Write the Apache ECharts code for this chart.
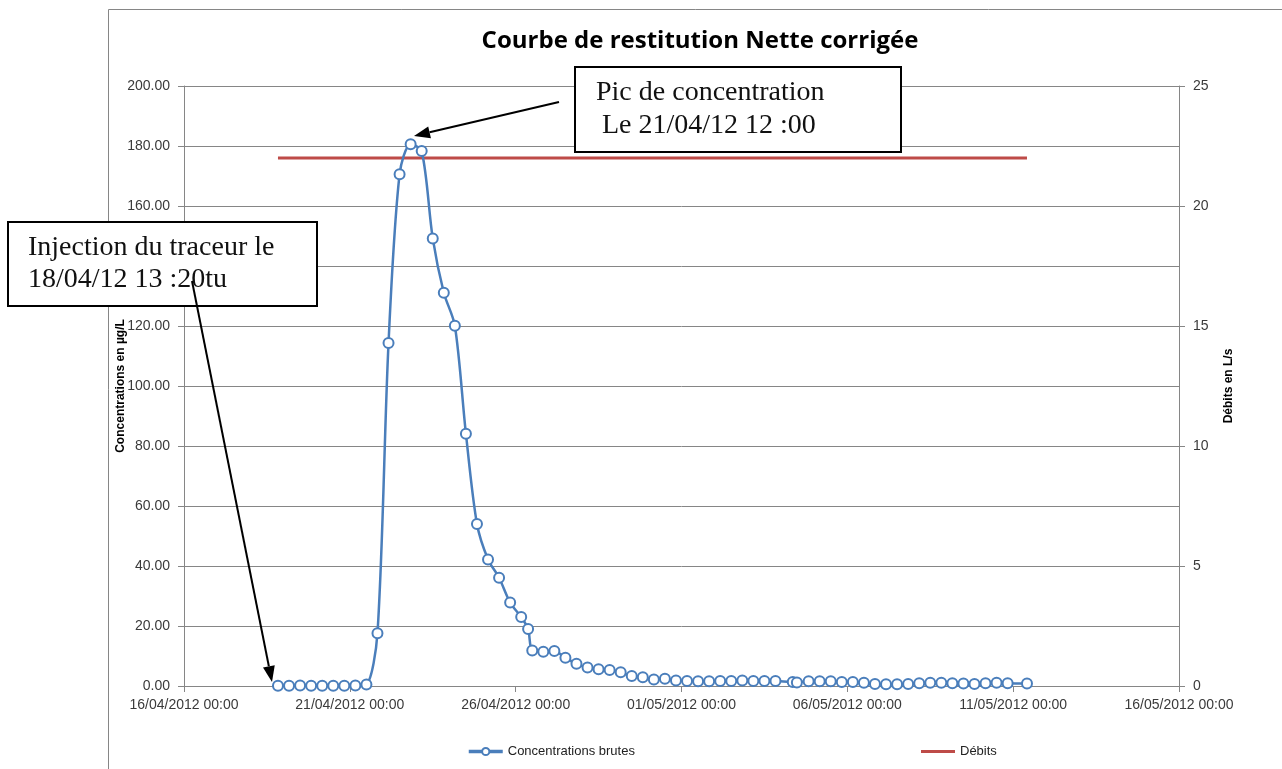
<!DOCTYPE html>
<html>
<head>
<meta charset="utf-8">
<title>Courbe de restitution</title>
<script src="https://cdn.jsdelivr.net/npm/echarts@6/dist/echarts.min.js"></script>
<style>
  html, body { margin: 0; padding: 0; background: #fff; }
  #chart { width: 1282px; height: 769px; }
</style>
</head>
<body>
<div id="chart"></div>
<script>
// sample times
const sampleTimes = [
  '2012-04-18 20:00', '2012-04-19 04:00', '2012-04-19 12:00', '2012-04-19 20:00', '2012-04-20 04:00',
  '2012-04-20 12:00', '2012-04-20 20:00', '2012-04-21 04:00', '2012-04-21 12:00', '2012-04-21 20:00',
  '2012-04-22 04:00', '2012-04-22 12:00', '2012-04-22 20:00', '2012-04-23 04:00', '2012-04-23 12:00',
  '2012-04-23 20:00', '2012-04-24 04:00', '2012-04-24 12:00', '2012-04-24 20:00', '2012-04-25 04:00',
  '2012-04-25 12:00', '2012-04-25 20:00', '2012-04-26 04:00', '2012-04-26 09:00', '2012-04-26 12:00',
  '2012-04-26 20:00', '2012-04-27 04:00', '2012-04-27 12:00', '2012-04-27 20:00', '2012-04-28 04:00',
  '2012-04-28 12:00', '2012-04-28 20:00', '2012-04-29 04:00', '2012-04-29 12:00', '2012-04-29 20:00',
  '2012-04-30 04:00', '2012-04-30 12:00', '2012-04-30 20:00', '2012-05-01 04:00', '2012-05-01 12:00',
  '2012-05-01 20:00', '2012-05-02 04:00', '2012-05-02 12:00', '2012-05-02 20:00', '2012-05-03 04:00',
  '2012-05-03 12:00', '2012-05-03 20:00', '2012-05-04 08:30', '2012-05-04 11:30', '2012-05-04 20:00',
  '2012-05-05 04:00', '2012-05-05 12:00', '2012-05-05 20:00', '2012-05-06 04:00', '2012-05-06 12:00',
  '2012-05-06 20:00', '2012-05-07 04:00', '2012-05-07 12:00', '2012-05-07 20:00', '2012-05-08 04:00',
  '2012-05-08 12:00', '2012-05-08 20:00', '2012-05-09 04:00', '2012-05-09 12:00', '2012-05-09 20:00',
  '2012-05-10 04:00', '2012-05-10 12:00', '2012-05-10 20:00', '2012-05-11 10:00'
];

// concentrations brutes (µg/L)
const concentrations = [
  0.1, 0.1, 0.2, 0.1, 0.1, 0.1, 0.1, 0.2, 0.5, 17.6,
  114.3, 170.6, 180.6, 178.3, 149.2, 131.1, 120.1, 84.1, 54.0, 42.2,
  36.1, 27.8, 23.0, 19.0, 11.8, 11.4, 11.7, 9.4, 7.4, 6.2,
  5.6, 5.3, 4.6, 3.3, 2.9, 2.2, 2.4, 1.8, 1.7, 1.6,
  1.6, 1.7, 1.7, 1.8, 1.7, 1.7, 1.7, 1.3, 1.2, 1.6,
  1.6, 1.6, 1.3, 1.3, 1.1, 0.7, 0.6, 0.6, 0.7, 0.9,
  1.1, 1.1, 0.9, 0.8, 0.7, 0.9, 1.1, 0.9, 0.8
];

// débits (L/s)
const debitTimes = ['2012-04-18 20:00', '2012-05-11 10:00'];
const debits = [22, 22];

// axis ranges
const xStart = '2012-04-16 00:00';
const xDays = 30;
const xStepDays = 5;
const leftMax = 200, leftStep = 20;
const rightMax = 25, rightStep = 5;

const DAY = 86400000;
function parseUTC(s) {
  const [d, t] = s.split(' ');
  const [Y, M, D] = d.split('-').map(Number);
  const [h, m] = t.split(':').map(Number);
  return Date.UTC(Y, M - 1, D, h, m);
}
const t0 = parseUTC(xStart);
const toDays = s => (parseUTC(s) - t0) / DAY;
const pad = n => String(n).padStart(2, '0');
function dayLabel(v) {
  const d = new Date(t0 + v * DAY);
  return pad(d.getUTCDate()) + '/' + pad(d.getUTCMonth() + 1) + '/' + d.getUTCFullYear() + ' 00:00';
}

const concData = sampleTimes.map((t, i) => [toDays(t), concentrations[i]]);
const debitData = debitTimes.map((t, i) => [toDays(t), debits[i]]);

// arrow helper for the callouts (line + filled head)
function arrow(x1, y1, x2, y2) {
  const len = 16, half = 6;
  const a = Math.atan2(y2 - y1, x2 - x1);
  const bx = x2 - len * Math.cos(a), by = y2 - len * Math.sin(a);
  const px = -Math.sin(a) * half, py = Math.cos(a) * half;
  return [
    { type: 'line', z: 120, shape: { x1: x1, y1: y1, x2: bx, y2: by },
      style: { stroke: '#000', lineWidth: 2 } },
    { type: 'polygon', z: 120,
      shape: { points: [[x2, y2], [bx + px, by + py], [bx - px, by - py]] },
      style: { fill: '#000' } }
  ];
}

const serif = '"Liberation Serif", "DejaVu Serif", serif';
const sans = '"Liberation Sans", Arial, sans-serif';
const grey = '#868686';

const myChart = echarts.init(document.getElementById('chart'));
myChart.setOption({
  animation: false,
  title: {
    text: 'Courbe de restitution Nette corrigée',
    left: 695, top: 24, textAlign: 'center',
    textStyle: { fontFamily: '"Open Sans", sans-serif', fontWeight: 'bold', fontSize: 24, color: '#000' }
  },
  legend: [
    {
      data: ['Concentrations brutes'], left: 462, top: 740,
      itemWidth: 34, itemHeight: 9,
      lineStyle: { width: 3.5 },
      textStyle: { fontFamily: sans, fontSize: 13, color: '#222' }
    },
    {
      data: [{ name: 'Débits', icon: 'rect' }], left: 916, top: 740,
      itemWidth: 34, itemHeight: 3,
      textStyle: { fontFamily: sans, fontSize: 13, color: '#222' }
    }
  ],
  grid: { left: 184, right: 103, top: 86, bottom: 83, outerBoundsMode: 'none' },
  xAxis: {
    type: 'value',
    min: 0, max: xDays, interval: xStepDays,
    axisLine: { lineStyle: { color: grey } },
    axisTick: { show: true, length: 6, lineStyle: { color: grey } },
    splitLine: { show: false },
    axisLabel: {
      formatter: dayLabel, margin: 12, color: '#3a3a3a',
      fontFamily: sans, fontSize: 14
    }
  },
  yAxis: [
    {
      type: 'value', min: 0, max: leftMax, interval: leftStep,
      name: 'Concentrations en µg/L', nameLocation: 'middle', nameGap: 57,
      nameMoveOverlap: false,
      nameTextStyle: { fontFamily: sans, fontWeight: 'bold', fontSize: 12, color: '#000' },
      axisLine: { show: true, lineStyle: { color: grey } },
      axisTick: { show: true, length: 6, lineStyle: { color: grey } },
      splitLine: { show: true, lineStyle: { color: grey, width: 1 } },
      axisLabel: {
        formatter: v => v.toFixed(2), margin: 14, color: '#3a3a3a',
        fontFamily: sans, fontSize: 14
      }
    },
    {
      type: 'value', min: 0, max: rightMax, interval: rightStep, position: 'right',
      name: 'Débits en L/s', nameLocation: 'middle', nameGap: 44, nameRotate: 90,
      nameMoveOverlap: false,
      nameTextStyle: { fontFamily: sans, fontWeight: 'bold', fontSize: 12, color: '#000' },
      axisLine: { show: true, lineStyle: { color: grey } },
      axisTick: { show: true, length: 6, lineStyle: { color: grey } },
      splitLine: { show: false },
      axisLabel: { margin: 14, color: '#3a3a3a', fontFamily: sans, fontSize: 14 }
    }
  ],
  series: [
    {
      name: 'Concentrations brutes',
      type: 'line',
      yAxisIndex: 0,
      data: concData,
      smooth: 0.3,
      symbol: 'emptyCircle',
      symbolSize: 10,
      color: '#4a7ebb',
      itemStyle: { borderWidth: 1.5 },
      lineStyle: { color: '#4a7ebb', width: 2.5 },
      z: 3
    },
    {
      name: 'Débits',
      type: 'line',
      yAxisIndex: 1,
      data: debitData,
      showSymbol: false,
      symbol: 'none',
      color: '#be4b48',
      lineStyle: { color: '#be4b48', width: 3 },
      z: 2
    }
  ],
  graphic: [
    // chart area frame
    { type: 'line', z: 1, shape: { x1: 108.5, y1: 9.5, x2: 1282, y2: 9.5 },
      style: { stroke: grey, lineWidth: 1 } },
    { type: 'line', z: 1, shape: { x1: 108.5, y1: 9.5, x2: 108.5, y2: 769 },
      style: { stroke: grey, lineWidth: 1 } },
    // callout: injection
    { type: 'rect', z: 100, shape: { x: 8, y: 222, width: 309, height: 84 },
      style: { fill: '#fff', stroke: '#000', lineWidth: 2 } },
    { type: 'text', z: 101, left: 28, top: 234,
      style: { text: 'Injection du traceur le', font: '28px ' + serif, fill: '#111' } },
    { type: 'text', z: 101, left: 28, top: 266,
      style: { text: '18/04/12 13 :20tu', font: '28px ' + serif, fill: '#111' } },
    // callout: pic
    { type: 'rect', z: 100, shape: { x: 575, y: 67, width: 326, height: 85 },
      style: { fill: '#fff', stroke: '#000', lineWidth: 2 } },
    { type: 'text', z: 101, left: 596, top: 79,
      style: { text: 'Pic de concentration', font: '28px ' + serif, fill: '#111' } },
    { type: 'text', z: 101, left: 602, top: 112,
      style: { text: 'Le 21/04/12 12 :00', font: '28px ' + serif, fill: '#111' } },
    ...arrow(192, 281, 272, 682),
    ...arrow(559, 102, 414, 136)
  ]
});
</script>
</body>
</html>
